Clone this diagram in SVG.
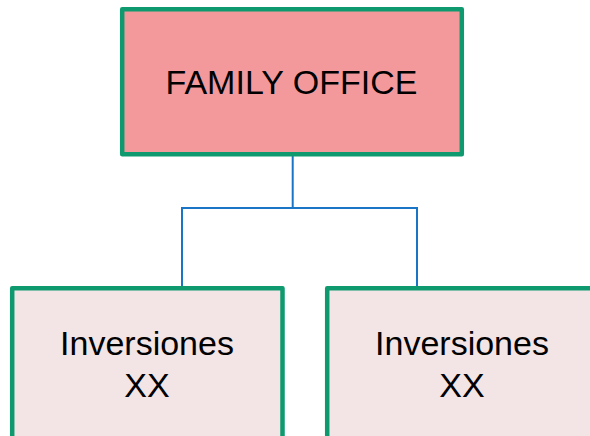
<svg xmlns="http://www.w3.org/2000/svg" width="590" height="436" viewBox="0 0 590 436">
  <style>
    .box { stroke: #0E9A6E; stroke-width: 4.5; stroke-linejoin: round; }
    .top { fill: #F3999C; }
    .sub { fill: #F3E4E5; }
    .lbl { font-family: "Liberation Sans", Arial, sans-serif; font-size: 34px; fill: #000; text-anchor: middle; }
    .wire { fill: none; stroke: #1B75C6; stroke-width: 2; }
  </style>
  <rect width="590" height="436" fill="#FFFFFF"/>
  <g id="connectors">
    <path class="wire" d="M292.7 156 V208"/>
    <path class="wire" d="M182 288 V208 H417 V288"/>
  </g>
  <g id="family-office">
    <rect class="box top" x="122.2" y="9.2" width="339.6" height="145"/>
    <text class="lbl" x="291.5" y="94">FAMILY OFFICE</text>
  </g>
  <g id="inversiones-left">
    <rect class="box sub" x="12.2" y="288.2" width="270.3" height="160"/>
    <text class="lbl" x="147" y="355">Inversiones</text>
    <text class="lbl" x="147" y="397">XX</text>
  </g>
  <g id="inversiones-right">
    <rect class="box sub" x="327.2" y="288.2" width="270" height="160"/>
    <text class="lbl" x="462" y="355">Inversiones</text>
    <text class="lbl" x="462" y="397">XX</text>
  </g>
</svg>
